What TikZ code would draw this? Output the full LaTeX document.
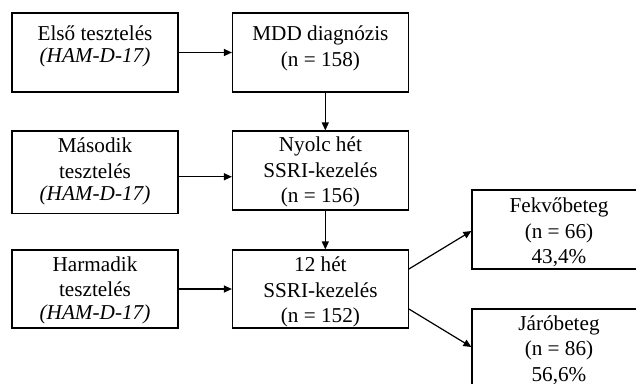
\documentclass[tikz,border=0pt]{standalone}
\usepackage{fontspec}
\setmainfont{Liberation Serif}
\usetikzlibrary{arrows.meta,calc}
\begin{document}
\begin{tikzpicture}[x=1pt,y=-1pt,
  box/.style={draw=black, line width=1.2pt, inner sep=0pt},
  txt/.style={anchor=north, align=center, inner sep=0pt, font=\fontsize{21.2}{25.5}\selectfont},
  arr/.style={line width=1.2pt, -{Triangle[length=8pt,width=7pt]}}]
\useasboundingbox (0,0) rectangle (636,383);
\clip (0,0) rectangle (636,383);
% boxes
\node[box, minimum width=166pt, minimum height=79pt] (l1) at (95,52.5) {};
\node[box, minimum width=166pt, minimum height=82.5pt] (l2) at (95,172.25) {};
\node[box, minimum width=166pt, minimum height=78pt] (l3) at (95,289) {};
\node[box, minimum width=175.8pt, minimum height=79pt] (m1) at (320.4,52.5) {};
\node[box, minimum width=175.8pt, minimum height=79pt] (m2) at (320.4,170.5) {};
\node[box, minimum width=175.8pt, minimum height=78pt] (m3) at (320.4,289) {};
\node[box, minimum width=174pt, minimum height=79pt] (f) at (559,229.5) {};
\node[box, minimum width=174pt, minimum height=79pt] (j) at (559,348.5) {};
% texts
\node[txt] (tl1) at (95,25.5) {Első tesztelés\\[-3pt]\textit{(HAM-D-17)}};
\node[txt] (tl2) at (95,138) {Második\\tesztelés\\[-3pt]\textit{(HAM-D-17)}};
\node[txt] (tl3) at (95,256.5) {Harmadik\\tesztelés\\[-3pt]\textit{(HAM-D-17)}};
\node[txt] (tm1) at (320.4,26) {MDD diagnózis\\(n = 158)};
\node[txt] (tm2) at (320.4,137) {Nyolc hét\\SSRI-kezelés\\(n = 156)};
\node[txt] (tm3) at (320.4,257) {12 hét\\SSRI-kezelés\\(n = 152)};
\node[txt] (tf) at (559,198) {Fekvőbeteg\\(n = 66)\\43,4\%};
\node[txt] (tj) at (559,315.5) {Járóbeteg\\(n = 86)\\56,6\%};
% connectors
\draw[arr] (l1) -- (m1);
\draw[arr] ([yshift=-4.5pt]l2.east) -- ([yshift=-4.5pt]l2.east -| m2.west);
\draw[arr] (l3) -- (m3);
\draw[arr] ([xshift=4.9pt]m1.south) -- ([xshift=4.9pt]m1.south |- m2.north);
\draw[arr] ([xshift=4.9pt]m2.south) -- ([xshift=4.9pt]m2.south |- m3.north);
\draw[arr] ([yshift=20pt]m3.east) -- ([yshift=-1.5pt]f.west);
\draw[arr] ([yshift=-20pt]m3.east) -- ([yshift=1.5pt]j.west);
\end{tikzpicture}
\end{document}
